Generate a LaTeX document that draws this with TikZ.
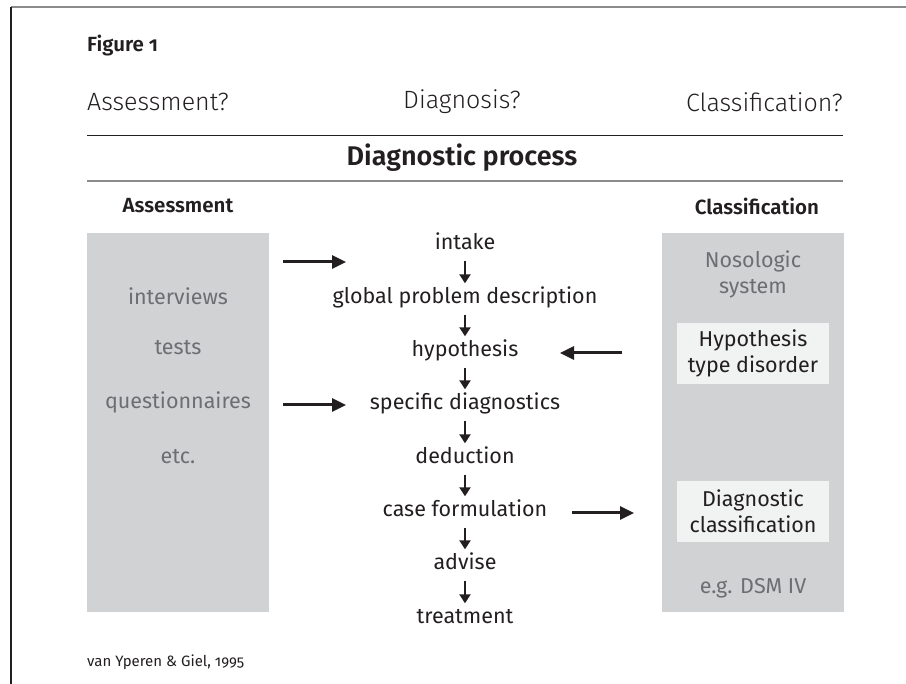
\documentclass[tikz,border=0pt]{standalone}
\usepackage{fontspec}
\setmainfont{Fira Sans}[Numbers=OldStyle]
\newfontfamily\lightfont{Fira Sans Light}[Numbers=OldStyle]
\newfontfamily\semifont{Fira Sans SemiBold}[Numbers=OldStyle]
\usetikzlibrary{arrows.meta}

\definecolor{ink}{HTML}{231F20}
\definecolor{boxgray}{HTML}{D1D2D4}
\definecolor{textgray}{HTML}{6D6E71}
\definecolor{whitebox}{HTML}{F1F2F2}
\definecolor{rulegray}{HTML}{8A8B8D}

\tikzset{
  chainitem/.style={font=\fontsize{21.5}{25}\selectfont, text=ink, inner sep=0pt,
    text height=15pt, text depth=4pt},
  greyitem/.style={font=\fontsize{21.5}{26}\selectfont, text=textgray, inner sep=0pt, align=center},
  heading/.style={font=\semifont\fontsize{20.5}{24}\selectfont, text=ink, inner sep=0pt},
  question/.style={font=\lightfont\fontsize{25}{30}\selectfont, text=ink, inner sep=0pt},
  panel/.style={fill=boxgray, draw=none, inner sep=0pt, anchor=north west},
  innerbox/.style={fill=whitebox, text=ink, font=\fontsize{21.5}{26}\selectfont,
    minimum width=152pt, minimum height=61pt, inner sep=0pt, align=center},
  downarrow/.style={draw=ink, line width=2.2pt, -{Triangle[length=9pt,width=11pt]},
    shorten <=7pt, shorten >=5pt},
  sidearrow/.style={draw=ink, line width=3pt, -{Triangle[length=14pt,width=13pt]}}
}

\begin{document}
\begin{tikzpicture}[x=1pt, y=-1pt]
  \useasboundingbox (0,0) rectangle (906,684);

  % frame
  \draw[rulegray, line width=2pt] (11,7) -- (906,7);
  \draw[ink, line width=1.5pt] (11,7) -- (11,684);

  % title and questions
  \node[font=\semifont\fontsize{20.5}{24}\selectfont, text=ink, anchor=west, inner sep=0pt] (fig) at (87,46) {Figure 1};
  \node[question, anchor=west] (qassess) at (87,102) {Assessment?};
  \node[question] (qdiag) at (462,102) {Diagnosis?};
  \node[question, anchor=east] (qclass) at (843,102) {Classification?};

  \draw[ink, line width=1pt] (87,136) -- (843,136);
  \node[font=\semifont\fontsize{27}{32}\selectfont, text=ink, inner sep=0pt] (process) at (462,158) {Diagnostic process};
  \draw[rulegray, line width=1.6pt] (87,181) -- (843,181);

  % column headings
  \node[heading] (hassess) at (178,206) {Assessment};
  \node[heading] (hclass) at (757,206) {Classification};

  % grey panels
  \node[panel, minimum width=182pt, minimum height=379pt] (apanel) at (87,233) {};
  \node[panel, minimum width=182pt, minimum height=379pt] (cpanel) at (662,233) {};

  % assessment instruments
  \node[greyitem] (interviews) at (178,296) {interviews};
  \node[greyitem] (tests) at (178,348) {tests};
  \node[greyitem] (quest) at (178,402) {questionnaires};
  \node[greyitem] (etc) at (178,457) {etc.};

  % classification panel
  \node[greyitem] (noso) at (753,274) {Nosologic\\system};
  \node[innerbox] (typedis) at (753,353.5) {Hypothesis\\type disorder};
  \node[innerbox] (diagclass) at (753,511.5) {Diagnostic\\classification};
  \node[greyitem] (dsm) at (753,588) {e.g. DSM IV};

  % diagnostic steps
  \node[chainitem] (intake) at (465,244) {intake};
  \node[chainitem] (global) at (465,298) {global problem description};
  \node[chainitem] (hypo) at (465,351) {hypothesis};
  \node[chainitem] (specific) at (465,404) {specific diagnostics};
  \node[chainitem] (deduct) at (465,458) {deduction};
  \node[chainitem] (casef) at (465,511) {case formulation};
  \node[chainitem] (advise) at (465,564) {advise};
  \node[chainitem] (treat) at (465,618) {treatment};

  \draw[downarrow] (intake.south) -- (global.north);
  \draw[downarrow] (global.south) -- (hypo.north);
  \draw[downarrow] (hypo.south) -- (specific.north);
  \draw[downarrow] (specific.south) -- (deduct.north);
  \draw[downarrow] (deduct.south) -- (casef.north);
  \draw[downarrow] (casef.south) -- (advise.north);
  \draw[downarrow] (advise.south) -- (treat.north);

  % side arrows
  \coordinate (aout1) at (283,262);
  \coordinate (ain1) at (346,262);
  \coordinate (aout2) at (283,405);
  \coordinate (ain2) at (346,405);
  \coordinate (cout) at (622,353);
  \coordinate (cin) at (560,353);
  \coordinate (fout) at (572,513);
  \coordinate (fin) at (634,513);
  \draw[sidearrow] (aout1) -- (ain1);
  \draw[sidearrow] (aout2) -- (ain2);
  \draw[sidearrow] (cout) -- (cin);
  \draw[sidearrow] (fout) -- (fin);

  % source
  \node[font=\fontsize{15}{18}\selectfont, text=ink, anchor=west, inner sep=0pt] (source) at (87,662) {van Yperen \& Giel, 1995};
\end{tikzpicture}
\end{document}
